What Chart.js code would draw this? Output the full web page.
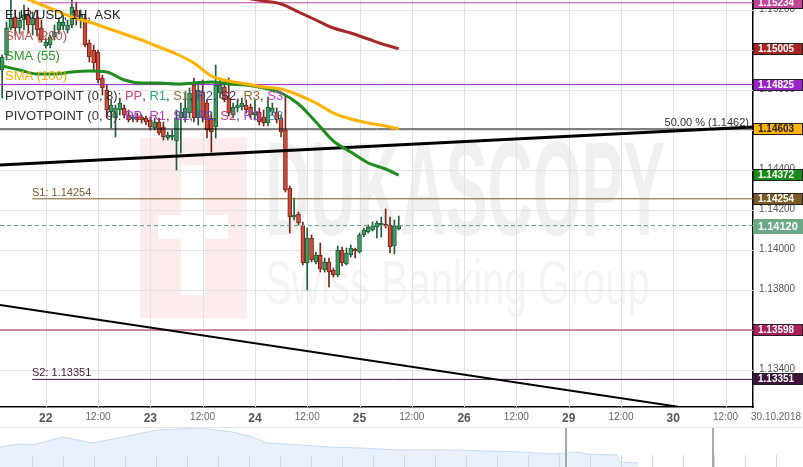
<!DOCTYPE html>
<html>
<head>
<meta charset="utf-8">
<title>EUR/USD 1H</title>
<script src="https://cdn.jsdelivr.net/npm/chart.js@4.4.1/dist/chart.umd.min.js"></script>
<style>
  html, body { margin: 0; padding: 0; background: #fff; }
  .pane { position: absolute; left: 0; width: 803px; }
</style>
</head>
<body>
<div class="pane" style="top:0;height:427px"><canvas id="chart-main"></canvas></div>
<div class="pane" style="top:427px;height:40px"><canvas id="chart-nav"></canvas></div>
<script>
const FONT = '"Liberation Sans", Arial, sans-serif';

// ── Hourly candles (hour 0 = 22.10 00:00) ─────────
const hours = [-10,-9,-8,-7,-6,-5,-4,-3,-2,-1,0,1,2,3,4,5,6,7,8,9,10,11,12,13,14,15,16,17,18,19,
  20,21,22,23,24,25,26,27,28,29,30,31,32,33,34,35,36,37,38,39,40,41,42,43,44,45,46,47,48,49,
  50,51,52,53,54,55,56,57,58,59,60,61,62,63,64,65,66,67,68,69,70,71,72,73,74,75,76,77,78,79,80,81];
const opens = [1.14898,1.14973,1.15108,1.15163,1.15108,1.15148,1.15173,1.15123,1.15158,1.15108,
  1.15018,1.15023,1.15063,1.15098,1.15118,1.15098,1.15123,1.15198,1.15148,1.15158,
  1.15033,1.14998,1.14988,1.14858,1.14798,1.14688,1.14658,1.14698,1.14708,1.14673,
  1.14653,1.14663,1.14663,1.14658,1.14648,1.14608,1.14638,1.14613,1.14558,1.14563,
  1.14543,1.14658,1.14658,1.14683,1.14823,1.14658,1.14788,1.14733,1.14658,1.14613,
  1.14783,1.14813,1.14758,1.14673,1.14708,1.14713,1.14723,1.14713,1.14673,1.14688,
  1.14663,1.14633,1.14688,1.14688,1.14658,1.14598,1.14308,1.14163,1.14178,1.14123,
  1.13933,1.14058,1.13938,1.13973,1.13898,1.13938,1.13898,1.13873,1.13998,1.13928,
  1.13973,1.14003,1.13988,1.14073,1.14088,1.14098,1.14113,1.14123,1.14128,1.14123,
  1.14018,1.14103];
const highs = [1.14973,1.15138,1.15248,1.15198,1.15188,1.15223,1.15208,1.15188,1.15198,1.15148,
  1.15058,1.15073,1.15123,1.15158,1.15173,1.15148,1.15248,1.15238,1.15198,1.15173,
  1.15048,1.15023,1.14998,1.14873,1.14823,1.14748,1.14723,1.14758,1.14723,1.14698,
  1.14673,1.14683,1.14673,1.14668,1.14663,1.14658,1.14658,1.14638,1.14588,1.14598,
  1.14698,1.14733,1.14783,1.14808,1.14858,1.14823,1.14848,1.14748,1.14688,1.14923,
  1.14858,1.14848,1.14858,1.14733,1.14748,1.14758,1.14748,1.14728,1.14748,1.14708,
  1.14698,1.14763,1.14733,1.14708,1.14673,1.14773,1.14318,1.14258,1.14188,1.14138,
  1.14108,1.14073,1.13988,1.14033,1.13958,1.13958,1.13908,1.14018,1.14013,1.14008,
  1.14023,1.14008,1.14083,1.14108,1.14123,1.14138,1.14143,1.14163,1.14203,1.14163,
  1.14148,1.14168];
const lows = [1.14758,1.14948,1.15098,1.15073,1.15078,1.15098,1.15083,1.15073,1.15068,1.15038,
  1.15008,1.15008,1.15048,1.15078,1.15098,1.15083,1.15108,1.15123,1.15108,1.15013,
  1.14938,1.14898,1.14833,1.14773,1.14658,1.14608,1.14563,1.14673,1.14658,1.14638,
  1.14638,1.14638,1.14633,1.14623,1.14598,1.14598,1.14573,1.14548,1.14548,1.14548,
  1.14398,1.14483,1.14638,1.14658,1.14638,1.14623,1.14638,1.14558,1.14488,1.14558,
  1.14758,1.14738,1.14668,1.14658,1.14688,1.14698,1.14683,1.14658,1.14648,1.14623,
  1.14618,1.14618,1.14673,1.14633,1.14563,1.14288,1.14083,1.14148,1.14123,1.13923,
  1.13798,1.13938,1.13928,1.13888,1.13888,1.13813,1.13863,1.13863,1.13918,1.13923,
  1.13963,1.13958,1.13983,1.14063,1.14083,1.14093,1.14058,1.14063,1.14108,1.13983,
  1.13978,1.14098];
const closes = [1.14963,1.15108,1.15158,1.15108,1.15148,1.15173,1.15123,1.15158,1.15098,1.15048,
  1.15038,1.15063,1.15088,1.15138,1.15138,1.15123,1.15213,1.15158,1.15173,1.15023,
  1.14963,1.14933,1.14848,1.14808,1.14698,1.14723,1.14708,1.14733,1.14673,1.14648,
  1.14663,1.14648,1.14648,1.14638,1.14613,1.14638,1.14583,1.14563,1.14573,1.14573,
  1.14658,1.14688,1.14708,1.14783,1.14658,1.14798,1.14658,1.14598,1.14588,1.14823,
  1.14823,1.14753,1.14683,1.14713,1.14723,1.14733,1.14698,1.14673,1.14688,1.14638,
  1.14633,1.14713,1.14708,1.14648,1.14588,1.14298,1.14163,1.14173,1.14133,1.13933,
  1.14058,1.13948,1.13973,1.13903,1.13938,1.13888,1.13873,1.13998,1.13933,1.13983,
  1.14008,1.13993,1.14073,1.14098,1.14113,1.14118,1.14133,1.14133,1.14118,1.14013,
  1.14118,1.14120];

// ── Moving averages ─────────────────────────────
const smaHours = [-10,-6,-2,2,6,10,14,18,22,26,30,34,38,42,46,50,54,58,62,66,70,74,78,81];
const sma55 = [1.14918,1.14898,1.14878,1.14878,1.14888,1.14893,1.14888,1.14848,1.14833,1.14833,
  1.14828,1.14833,1.14838,1.14828,1.14823,1.14808,1.14783,1.14728,1.14638,1.14543,
  1.14488,1.14433,1.14403,1.14372];
const sma100 = [1.15298,1.15268,1.15233,1.15198,1.15163,1.15138,1.15108,1.15078,1.15048,1.15013,
  1.14978,1.14933,1.14868,1.14843,1.14828,1.14813,1.14803,1.14773,1.14733,1.14683,
  1.14653,1.14633,1.14618,1.14603];
const sma200Hours = [42,46,50,54,58,62,66,70,74,78,81];
const sma200 = [1.15278,1.15258,1.15243,1.15228,1.15188,1.15148,1.15108,1.15083,1.15053,1.15023,1.15005];

// ── Trend lines ─────────────────────────────────
const trendHours = [-10.5, 162.3];
const trendUp = [1.14423, 1.14613];
const trendDown = [1.13723, 1.13158];

// ── Horizontal levels ───────────────────────────
const levelPrices = [1.15234, 1.14825, 1.14603, 1.14254, 1.14120, 1.13598, 1.13351];
const levelStart  = [-3.1, -10.5, -10.5, -3.1, -10.5, -10.5, -3.1];
const levelColors = ['#c2449a', '#9b24c9', '#000000', '#7b5a25', '#5f9f7e', '#a8205a', '#3e1539'];
const levelTexts  = ['PP: 1.15234', '', '50.00 % (1.1462)', 'S1: 1.14254', '', '', 'S2: 1.13351'];

// ── Price boxes on the right axis ───────────────
const boxPrices = [1.15234, 1.15005, 1.14825, 1.14603, 1.14372, 1.14254, 1.14120, 1.13598, 1.13351];
const boxColors = ['#c2449a', '#a82424', '#9b24c9', '#ffb300', '#1b8a1b', '#7b5a25', '#6aa886', '#a8205a', '#3e1539'];
const lastPrice = 1.14120;

// ── Axis ticks ──────────────────────────────────
const xTickLabels = ['22', '12:00', '23', '12:00', '24', '12:00', '25', '12:00', '26', '12:00', '29', '12:00', '30', '12:00'];
const xMin = -10.5, xMax = 162.3;
const yMin = 1.13213, yMax = 1.15248;

// ── Navigator (overview) ────────────────────────
const navPos = [0, 2.5, 4.1, 7.8, 11.6, 15.3, 19.6, 24.9, 29, 31.5, 33.2, 37.4, 41.1, 44.8, 49.8,
  56, 61, 64.8, 68.9, 70.6, 72, 73.1, 76.8, 77.2, 79.5];
const navVals = [20, 23, 22, 30, 24, 30, 37, 39, 35, 30, 24, 22, 20, 19, 17,
  17, 16, 15, 13, 14, 15, 13, 12, 5, 4];

const bull = closes.map((c, i) => c >= opens[i]);

function pts(xs, ys) { return xs.map((x, i) => ({ x, y: ys[i] })); }

function levelSet(i) {
  return {
    type: 'line',
    data: [{ x: levelStart[i], y: levelPrices[i] }, { x: xMax, y: levelPrices[i] }],
    borderColor: levelColors[i],
    borderWidth: 1,
    borderDash: i === 4 ? [4, 3] : [],
    pointRadius: 0,
    order: 3,
  };
}

function drawSegments(ctx, x, y, parts) {
  parts.forEach(([t, c]) => {
    ctx.fillStyle = c;
    ctx.fillText(t, x, y);
    x += ctx.measureText(t).width;
  });
}

const overlay = {
  id: 'overlay',
  beforeDraw(chart) {
    const ctx = chart.ctx;
    ctx.save();
    // watermark
    ctx.fillStyle = '#fcecec';
    ctx.fillRect(140, 138, 107, 180);
    ctx.fillStyle = '#ffffff';
    ctx.fillRect(181, 165, 24, 130);
    ctx.fillRect(158, 215, 70, 24);
    ctx.fillStyle = '#f0f0f0';
    ctx.font = 'bold 133px ' + FONT;
    ctx.textBaseline = 'alphabetic';
    ctx.fillText('DUKASCOPY', 265, 235, 400);
    ctx.fillStyle = '#f4f4f4';
    ctx.font = '63px ' + FONT;
    ctx.fillText('Swiss Banking Group', 265, 304, 385);
    ctx.restore();
  },
  beforeDatasetsDraw(chart) {
    // grid from the scales' own ticks
    const ctx = chart.ctx;
    const a = chart.chartArea;
    const xs = chart.scales.x, ys = chart.scales.y;
    ctx.save();
    ctx.strokeStyle = '#e2e2e2';
    ctx.lineWidth = 1;
    ctx.beginPath();
    xs.ticks.forEach(t => {
      const px = Math.round(xs.getPixelForValue(t.value)) + 0.5;
      ctx.moveTo(px, a.top); ctx.lineTo(px, a.bottom);
    });
    ys.ticks.forEach(t => {
      const py = Math.round(ys.getPixelForValue(t.value)) + 0.5;
      ctx.moveTo(a.left, py); ctx.lineTo(a.right, py);
    });
    ctx.stroke();
    ctx.restore();
  },
  afterDraw(chart) {
    const ctx = chart.ctx;
    const ys = chart.scales.y;
    const area = chart.chartArea;
    ctx.save();

    // level captions
    ctx.font = '11px ' + FONT;
    ctx.textBaseline = 'alphabetic';
    levelTexts.forEach((t, i) => {
      if (!t) return;
      const py = ys.getPixelForValue(levelPrices[i]) - 3;
      ctx.fillStyle = i === 2 ? '#333' : levelColors[i];
      if (i === 2) { ctx.textAlign = 'right'; ctx.fillText(t, area.right - 4, py); }
      else { ctx.textAlign = 'left'; ctx.fillText(t, 32, py); }
    });

    // legend lines
    ctx.textAlign = 'left';
    ctx.textBaseline = 'middle';
    ctx.font = '13px ' + FONT;
    drawSegments(ctx, 5, 15, [['EUR/USD, 1H, ASK', '#222']]);
    drawSegments(ctx, 5, 36, [['SMA (200)', '#c45050']]);
    drawSegments(ctx, 5, 56, [['SMA (55)', '#2a992a']]);
    drawSegments(ctx, 5, 76, [['SMA (100)', '#ffae00']]);
    const g = '#333';
    drawSegments(ctx, 5, 96, [['PIVOTPOINT (0, 8): ', g], ['PP', '#d04a8a'], [', ', g], ['R1', '#2aa775'],
      [', ', g], ['S1', '#8a6a3a'], [', ', g], ['R2', '#4a4aa8'], [', ', g], ['S2', '#4a2a48'],
      [', ', g], ['R3', '#8f6a30'], [', ', g], ['S3', '#c83cc8']]);
    drawSegments(ctx, 5, 116, [['PIVOTPOINT (0, 9): ', g], ['PP', '#b040d8'], [', ', g], ['R1', '#c03ad0'],
      [', ', g], ['S1', '#a035d0'], [', ', g], ['R2', '#5050c8'], [', ', g], ['S2', '#c83a6a'],
      [', ', g], ['R3', '#a045c8'], [', ', g], ['S3', '#3a98b8']]);

    // price boxes
    boxPrices.forEach((p, i) => {
      const py = Math.round(ys.getPixelForValue(p));
      const isLast = p === lastPrice;
      const h = isLast ? 15 : 12;
      const top = py - Math.floor(h / 2);
      ctx.fillStyle = boxColors[i];
      ctx.fillRect(area.right, top, 50, h);
      if (!isLast) {
        ctx.strokeStyle = '#222';
        ctx.lineWidth = 1;
        ctx.strokeRect(area.right + 0.5, top + 0.5, 49, h - 1);
      }
      ctx.fillStyle = i === 3 ? '#222' : '#fff';
      ctx.font = (isLast ? 'bold 11px ' : 'bold 10px ') + FONT;
      ctx.textAlign = 'left';
      ctx.textBaseline = 'middle';
      ctx.fillText(p.toFixed(5), area.right + 5, top + h / 2 + 0.5);
    });

    // date on the x axis
    ctx.fillStyle = '#666';
    ctx.font = '10px ' + FONT;
    ctx.textAlign = 'center';
    ctx.fillText('30.10.2018', 776, 417);
    ctx.restore();
  }
};

new Chart(document.getElementById('chart-main'), {
  type: 'bar',
  data: {
    datasets: [
      {
        label: 'wicks',
        data: hours.map((h, i) => ({ x: h, y: [lows[i], highs[i]] })),
        backgroundColor: bull.map(b => b ? '#1f5f3a' : '#7a2417'),
        barThickness: 1,
        grouped: false,
        order: 6,
      },
      {
        label: 'bodies',
        data: hours.map((h, i) => ({ x: h, y: [opens[i], closes[i]] })),
        backgroundColor: bull.map(b => b ? '#3f9a63' : '#cc4b3c'),
        borderColor: bull.map(b => b ? '#1d5e37' : '#7a2417'),
        borderWidth: 1,
        borderSkipped: false,
        barThickness: 4,
        minBarLength: 1,
        grouped: false,
        order: 5,
      },
      ...levelPrices.map((p, i) => levelSet(i)),
      { type: 'line', data: pts(trendHours, trendUp), borderColor: '#000', borderWidth: 3, pointRadius: 0, order: 2 },
      { type: 'line', data: pts(trendHours, trendDown), borderColor: '#000', borderWidth: 2, pointRadius: 0, order: 2 },
      { type: 'line', label: 'SMA (200)', data: pts(sma200Hours, sma200), borderColor: '#a82828', borderWidth: 3,
        pointRadius: 0, cubicInterpolationMode: 'monotone', order: 1 },
      { type: 'line', label: 'SMA (100)', data: pts(smaHours, sma100), borderColor: '#ffb300', borderWidth: 3,
        pointRadius: 0, cubicInterpolationMode: 'monotone', order: 1 },
      { type: 'line', label: 'SMA (55)', data: pts(smaHours, sma55), borderColor: '#1e8c1e', borderWidth: 3,
        pointRadius: 0, cubicInterpolationMode: 'monotone', order: 1 },
    ]
  },
  options: {
    responsive: true,
    maintainAspectRatio: false,
    animation: false,
    layout: { padding: 0 },
    plugins: { legend: { display: false }, tooltip: { enabled: false } },
    scales: {
      x: {
        type: 'linear',
        min: xMin, max: xMax,
        offset: false,
        afterFit: s => { s.height = 20; s.paddingLeft = 0; s.paddingRight = 0; },
        grid: { display: false, drawTicks: false },
        border: { display: true, color: '#000', width: 1.5 },
        ticks: {
          stepSize: 12,
          includeBounds: false,
          autoSkip: false,
          maxRotation: 0,
          padding: 4,
          color: c => (c.tick && c.tick.value % 24 === 0) ? '#555' : '#666',
          font: c => (c.tick && c.tick.value % 24 === 0)
            ? { family: FONT, size: 12, weight: 'bold' }
            : { family: FONT, size: 10 },
          callback: v => xTickLabels[Math.round(v / 12)] || '',
        }
      },
      y: {
        position: 'right',
        min: yMin, max: yMax,
        afterFit: s => { s.width = 50; s.paddingTop = 0; s.paddingBottom = 0; },
        grid: { display: false, drawTicks: false },
        border: { display: true, color: '#000', width: 1.5 },
        ticks: {
          stepSize: 0.002,
          includeBounds: false,
          padding: 6,
          color: '#555',
          font: { family: FONT, size: 10 },
          callback: v => v.toFixed(5),
        }
      }
    }
  },
  plugins: [overlay]
});

const navMarks = {
  id: 'navMarks',
  afterDraw(chart) {
    const ctx = chart.ctx;
    ctx.save();
    ctx.strokeStyle = '#e6e6e6';
    ctx.lineWidth = 1;
    ctx.beginPath(); ctx.moveTo(0, 0.5); ctx.lineTo(803, 0.5); ctx.stroke();
    ctx.strokeStyle = '#d8d8d8';
    for (let x = 32; x < 803; x += 31) {
      ctx.beginPath(); ctx.moveTo(x + 0.5, 28); ctx.lineTo(x + 0.5, 40); ctx.stroke();
    }
    ctx.strokeStyle = '#aaa';
    ctx.lineWidth = 2;
    [566, 713].forEach(x => { ctx.beginPath(); ctx.moveTo(x, 1); ctx.lineTo(x, 40); ctx.stroke(); });
    ctx.restore();
  }
};

new Chart(document.getElementById('chart-nav'), {
  type: 'line',
  data: {
    datasets: [{
      data: pts(navPos, navVals),
      borderColor: '#c6daf5',
      backgroundColor: '#e9f1fc',
      borderWidth: 1,
      fill: 'origin',
      pointRadius: 0,
    }]
  },
  options: {
    responsive: true,
    maintainAspectRatio: false,
    animation: false,
    layout: { padding: 0 },
    plugins: { legend: { display: false }, tooltip: { enabled: false } },
    scales: {
      x: { type: 'linear', min: 0, max: 100, display: false },
      y: { min: 0, max: 40, display: false }
    }
  },
  plugins: [navMarks]
});
</script>
</body>
</html>
